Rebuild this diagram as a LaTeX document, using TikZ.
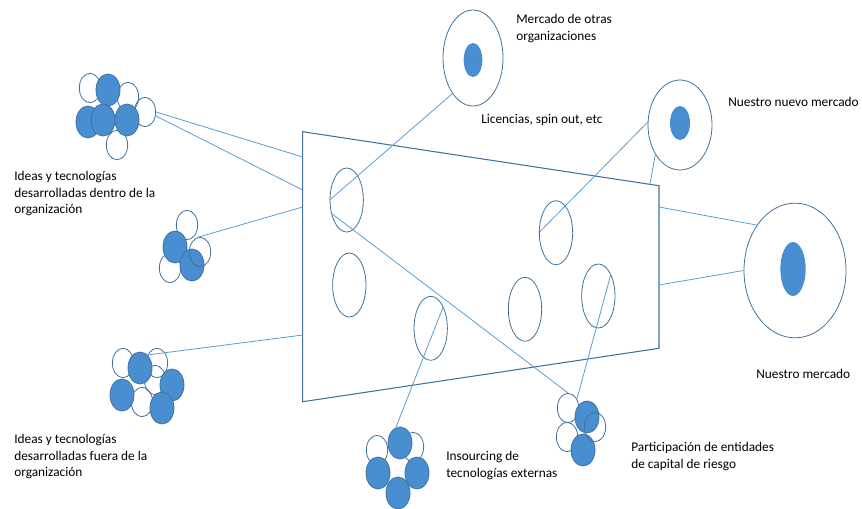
\documentclass[tikz,border=0pt]{standalone}
\usepackage{fontspec}
\setmainfont{Carlito}
\usetikzlibrary{shapes.geometric}

\definecolor{ringc}{RGB}{65,113,156}
\definecolor{linkc}{RGB}{91,155,213}
\definecolor{blobc}{RGB}{74,142,210}

\begin{document}
\begin{tikzpicture}[x=0.75pt,y=0.75pt,yscale=-1,xscale=1,
  blob/.style={ellipse,draw=ringc,fill=blobc,line width=0.6pt,minimum width=18pt,minimum height=24pt,inner sep=0pt},
  bubble/.style={ellipse,draw=ringc,line width=0.6pt,minimum width=16pt,minimum height=22pt,inner sep=0pt},
  oval/.style={ellipse,draw=ringc,line width=0.6pt,minimum width=25pt,minimum height=48pt,inner sep=0pt},
  link/.style={draw=linkc,line width=0.6pt},
  lbl/.style={anchor=north west,inner sep=0.75pt,align=left,font=\fontsize{10}{12.5}\selectfont}]
\useasboundingbox (0,0) rectangle (862,508);

%Trapezoid
\coordinate (tl) at (302.7,131.7);
\coordinate (tr) at (659,185.7);
\coordinate (br) at (659,348.3);
\coordinate (bl) at (302.7,401.7);
\draw [draw=ringc,line width=0.8pt] (tl) -- (tr) -- (br) -- (bl) -- cycle;
%edge points
\coordinate (la) at (302.7,157);
\coordinate (lb) at (302.7,190);
\coordinate (lc) at (302.7,207);
\coordinate (ld) at (302.7,335);
\coordinate (ra) at (659,207);
\coordinate (rb) at (659,285);
\coordinate (ta) at (650,184);

%Inner ellipses
\node [oval] (e1) at (346.7,200) {};
\node [oval] (e2) at (349.3,285) {};
\node [oval] (e3) at (430.7,328.3) {};
\node [oval] (e4) at (556,232.7) {};
\node [oval] (e5) at (525,309.3) {};
\node [oval] (e6) at (598.3,296) {};

%Markets
\node [oval,minimum width=45pt,minimum height=72pt] (otras) at (473,58) {};
\node [ellipse,fill=blobc,minimum width=14pt,minimum height=25.5pt,inner sep=0pt] (otrasIn) at (473,60) {};
\node [oval,minimum width=48pt,minimum height=67.5pt] (nuevo) at (680,125) {};
\node [ellipse,fill=blobc,minimum width=15pt,minimum height=25.5pt,inner sep=0pt] (nuevoIn) at (680,123) {};
\node [oval,minimum width=76.5pt,minimum height=101pt] (mercado) at (795,270.5) {};
\node [ellipse,fill=blobc,minimum width=19pt,minimum height=40.5pt,inner sep=0pt] (mercadoIn) at (793,269) {};

%Cluster: dentro
\node [bubble] (a1) at (90,88) {};
\node [bubble] (a3) at (128,97) {};
\node [bubble] (a4) at (145,112) {};
\node [bubble] (a8) at (117,145) {};
\node [blob] (a2) at (108,90) {};
\node [blob] (a5) at (88,122) {};
\node [blob] (a6) at (103,120) {};
\node [blob] (a7) at (127,120) {};

%Cluster: small
\node [bubble] (s1) at (187,225) {};
\node [bubble] (s4) at (170,268) {};
\node [blob] (s2) at (175,247) {};
\node [blob] (s5) at (192,265) {};
\node [bubble] (s3) at (200,252) {};

%Cluster: fuera
\node [bubble] (b1) at (123,363) {};
\node [bubble] (b3) at (157,363) {};
\node [bubble] (b4) at (155,380) {};
\node [bubble] (b7) at (142,402) {};
\node [blob] (b2) at (140,368) {};
\node [blob] (b5) at (172,385) {};
\node [blob] (b6) at (122,395) {};
\node [blob] (b8) at (162,408) {};

%Cluster: insourcing
\node [bubble] (i1) at (377,450) {};
\node [bubble] (i3) at (413,447) {};
\node [blob] (i2) at (400,443) {};
\node [blob] (i4) at (378,473) {};
\node [blob] (i5) at (417,473) {};
\node [blob] (i6) at (398,493) {};

%Cluster: capital de riesgo
\node [bubble] (p1) at (568,408) {};
\node [bubble] (p4) at (567,437) {};
\node [blob] (p2) at (587,417) {};
\node [blob] (p5) at (583,450) {};
\node [bubble] (p3) at (595,427) {};

%Straight Lines
\draw [link] (a4.east) -- (la);
\draw [link] (a4.-20) -- (lb);
\draw [link] (s3.100) -- (lc);
\draw [link] (b2.60) -- (ld);
\draw [link] (e1.west) -- (otras.240);
\draw [link] (e1.220) -- (p1.north);
\draw [link] (e4.west) -- (nuevo.175);
\draw [link] (nuevo.230) -- (ta);
\draw [link] (ra) -- (mercado.130);
\draw [link] (rb) -- (mercado.west);
\draw [link] (i2.105) -- (e3.60);
\draw [link] (p1.45) -- (e6.60);

% Text Node
\draw (515,13) node [lbl] (tOtras) {Mercado de otras\\organizaciones};
% Text Node
\draw (480,113) node [lbl] (tLic) {Licencias, spin out, etc};
% Text Node
\draw (727,96) node [lbl] (tNuevo) {Nuestro nuevo mercado};
% Text Node
\draw (755,368) node [lbl] (tMercado) {Nuestro mercado};
% Text Node
\draw (13,170) node [lbl] (tDentro) {Ideas y tecnologías\\desarrolladas dentro de la\\organización};
% Text Node
\draw (13,433) node [lbl] (tFuera) {Ideas y tecnologías\\desarrolladas fuera de la\\organización};
% Text Node
\draw (445,450) node [lbl] (tIns) {Insourcing de\\tecnologías externas};
% Text Node
\draw (630,441) node [lbl] (tPart) {Participación de entidades\\de capital de riesgo};

\end{tikzpicture}
\end{document}
